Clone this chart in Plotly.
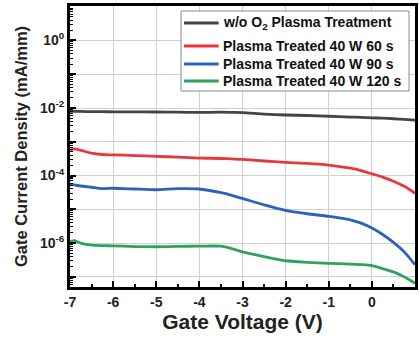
import plotly.graph_objects as go

vg = [-7.0, -6.9, -6.75, -6.5, -6.25, -6.0, -5.5, -5.0, -4.5, -4.0, -3.5, -3.25, -3.0,
      -2.5, -2.0, -1.5, -1.0, -0.5, -0.25, 0.0, 0.25, 0.5, 0.75, 1.0]

j_ref = [7.9e-3, 8.0e-3, 7.9e-3, 7.8e-3, 7.8e-3, 7.7e-3, 7.7e-3, 7.6e-3, 7.5e-3, 7.4e-3, 7.5e-3, 7.4e-3, 7.3e-3,
         6.6e-3, 6.2e-3, 6.0e-3, 5.7e-3, 5.4e-3, 5.3e-3, 5.1e-3, 5.0e-3, 4.8e-3, 4.6e-3, 4.4e-3]
j_60 = [5.6e-4, 6.2e-4, 5.6e-4, 4.6e-4, 4.2e-4, 4.1e-4, 3.9e-4, 3.7e-4, 3.5e-4, 3.3e-4, 3.2e-4, 3.1e-4, 3.0e-4,
        2.7e-4, 2.45e-4, 2.3e-4, 2.05e-4, 1.65e-4, 1.4e-4, 1.12e-4, 9.0e-5, 6.8e-5, 4.8e-5, 3.0e-5]
j_90 = [5.6e-5, 5.3e-5, 4.9e-5, 4.5e-5, 4.1e-5, 4.2e-5, 4.0e-5, 3.8e-5, 4.1e-5, 4.0e-5, 3.1e-5, 2.6e-5, 2.1e-5,
        1.35e-5, 9.3e-6, 7.4e-6, 6.2e-6, 4.9e-6, 3.9e-6, 2.8e-6, 1.8e-6, 1.05e-6, 5.5e-7, 2.3e-7]
j_120 = [1.1e-6, 1.18e-6, 1.0e-6, 8.7e-7, 8.4e-7, 8.3e-7, 7.9e-7, 7.8e-7, 8.0e-7, 8.1e-7, 8.1e-7, 6.9e-7, 5.5e-7,
         4.0e-7, 3.0e-7, 2.7e-7, 2.5e-7, 2.4e-7, 2.3e-7, 2.15e-7, 1.75e-7, 1.4e-7, 1.0e-7, 6.5e-8]

series_names = ["w/o O<sub>2</sub> Plasma Treatment", "Plasma Treated 40 W 60 s",
                "Plasma Treated 40 W 90 s", "Plasma Treated 40 W 120 s"]
series_vals = [j_ref, j_60, j_90, j_120]
series_colors = ["#444444", "#e8383c", "#2b62c0", "#2ea35c"]

x_ticks = [-7, -6, -5, -4, -3, -2, -1, 0, 1]
y_tickvals = [1e-7, 1e-6, 1e-5, 1e-4, 1e-3, 1e-2, 1e-1, 1e0, 1e1]
y_ticktext = ["", "10<sup>-6</sup>", "", "10<sup>-4</sup>", "", "10<sup>-2</sup>", "", "10<sup>0</sup>", ""]

W, H = 419, 341
ML, MR, MT, MB = 70, 1, 6, 54
PW, PH = W - ML - MR, H - MT - MB


def px_x(px):
    return (px - ML) / PW


def px_y(py):
    return (H - MB - py) / PH


fig = go.Figure()
for name, ys, col in zip(series_names, series_vals, series_colors):
    fig.add_trace(go.Scatter(x=vg, y=ys, mode="lines", name=name, showlegend=False,
                             line=dict(color=col, width=2.8, shape="spline", smoothing=0.6)))

font_main = "Liberation Sans, Arial, sans-serif"

# manual legend (box, sample lines, labels)
shapes = [dict(type="rect", xref="paper", yref="paper",
               x0=px_x(182), x1=px_x(412), y0=px_y(91), y1=px_y(11),
               fillcolor="white", line=dict(color="#8a8a8a", width=1), layer="above")]
annotations = []
row_y = [23, 46, 64, 81]
for name, col, ry in zip(series_names, series_colors, row_y):
    shapes.append(dict(type="line", xref="paper", yref="paper",
                       x0=px_x(185), x1=px_x(220), y0=px_y(ry), y1=px_y(ry),
                       line=dict(color=col, width=3), layer="above"))
    annotations.append(dict(xref="paper", yref="paper", x=px_x(222), y=px_y(ry),
                            xanchor="left", yanchor="middle", showarrow=False, text=name,
                            font=dict(size=14, family=font_main, weight="bold", color="#111111")))

fig.update_layout(
    width=W, height=H,
    margin=dict(l=ML, r=MR, t=MT, b=MB),
    paper_bgcolor="white", plot_bgcolor="white",
    font=dict(family=font_main, color="#222222"),
    shapes=shapes, annotations=annotations,
    showlegend=False,
)
fig.update_xaxes(
    range=[-7, 1], tickvals=x_ticks, ticktext=[str(v) for v in x_ticks],
    ticks="inside", ticklen=6, tickwidth=2, tickcolor="black",
    minor=dict(dtick=0.5, ticks="inside", ticklen=3, tickwidth=1.5, tickcolor="black", showgrid=False),
    showgrid=True, gridcolor="#d0d0d0", gridwidth=1,
    showline=True, linewidth=3, linecolor="black", mirror=True,
    tickfont=dict(size=14, weight="bold", color="#222222"),
    title=dict(text="Gate Voltage (V)", font=dict(size=21, weight="bold", color="#222222"), standoff=4),
    zeroline=False,
)
fig.update_yaxes(
    type="log", range=[-7.3, 1.02],
    tickvals=y_tickvals, ticktext=y_ticktext,
    ticks="inside", ticklen=6, tickwidth=2, tickcolor="black",
    minor=dict(dtick="D1", ticks="inside", ticklen=3, tickwidth=1, tickcolor="black", showgrid=False),
    showgrid=True, gridcolor="#d0d0d0", gridwidth=1,
    showline=True, linewidth=3, linecolor="black", mirror=True,
    tickfont=dict(size=14, weight="bold", color="#222222"),
    title=dict(text="Gate Current Density (mA/mm)", font=dict(size=16.5, weight="bold", color="#222222"), standoff=9),
    zeroline=False,
)
fig.write_html("out.html")
